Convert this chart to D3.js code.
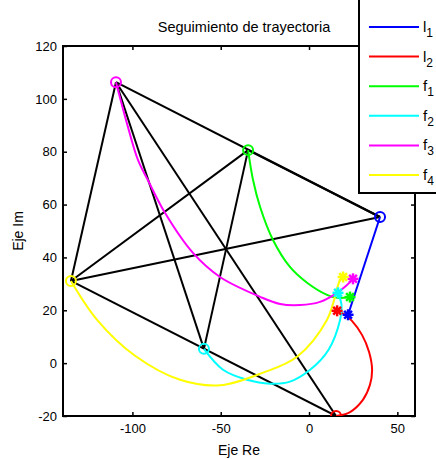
<!DOCTYPE html>
<html>
<head>
<meta charset="utf-8">
<script src="https://cdn.jsdelivr.net/npm/d3@7"></script>
<style>
  body { margin: 0; background: #fff; }
  svg { font-family: "Liberation Sans", Arial, sans-serif; }
</style>
</head>
<body>
<div id="chart"></div>
<script>
// series names, colours and legend labels
const seriesNames = ["l1", "l2", "f1", "f2", "f3", "f4"];
const seriesColors = ["#0000ff", "#ff0000", "#00ff00", "#00ffff", "#ff00ff", "#ffff00"];
const legendBase = ["l", "l", "f", "f", "f", "f"];
const legendSub = ["1", "2", "1", "2", "3", "4"];

// trajectories [Re, Im]
const l1 = [[40.2, 55.3], [22.1, 18.3]];
const l2 = [[15.3, -20.0], [23.2, -18.5], [30.6, -13.8], [34.5, -8.2], [35.7, -2.5],
            [34.0, 4.2], [30.0, 10.7], [24.3, 16.0], [19.8, 18.6], [15.9, 19.8]];
const f1 = [[-34.5, 80.6], [-31.7, 69.3], [-27.7, 59.1], [-20.4, 46.6], [-10.8, 36.4],
            [-1.1, 30.4], [10.2, 25.8], [15.9, 24.7], [23.2, 25.0]];
const f2 = [[-59.5, 5.4], [-48.7, -2.5], [-35.1, -6.3], [-22.1, -7.8], [-10.8, -7.0],
            [0.6, -2.5], [11.0, 5.0], [17.6, 16.4], [18.4, 22.0], [16.4, 26.6]];
const f3 = [[-109.3, 106.3], [-102.5, 89.3], [-96.8, 76.8], [-91.2, 69.2], [-81.5, 56.8],
            [-65.7, 41.7], [-50.4, 32.6], [-27.7, 25.1], [-16.4, 22.4], [-5.1, 22.0],
            [6.2, 23.2], [15.9, 26.6], [21.5, 29.6], [24.9, 31.9]];
const f4 = [[-134.8, 31.1], [-120.0, 16.4], [-98.5, 2.8], [-73.0, -6.3], [-50.4, -8.4],
            [-26.0, -3.6], [-6.8, 2.4], [10.2, 16.4], [17.6, 31.5], [19.3, 32.6]];
const trajectories = [l1, l2, f1, f2, f3, f4];

// black links between the starting positions
const links = [["f3", "l1"], ["f3", "f4"], ["f3", "f2"], ["f3", "l2"], ["f1", "l1"],
               ["f1", "f2"], ["f1", "f4"], ["f4", "l1"], ["f4", "l2"]];

// axis ticks and texts
const xTicks = [-100, -50, 0, 50];
const yTicks = [-20, 0, 20, 40, 60, 80, 100, 120];
const titleText = "Seguimiento de trayectoria";
const xLabel = "Eje Re";
const yLabel = "Eje Im";

// 1) SVG and plot box
const W = 436, H = 459;
const box = { left: 63, right: 415, top: 46, bottom: 416 };

const svg = d3.select("#chart").append("svg")
  .attr("width", W)
  .attr("height", H);

const x = d3.scaleLinear().domain([-139.3, 60]).range([box.left, box.right]);
const y = d3.scaleLinear().domain([-20, 120]).range([box.bottom, box.top]);

svg.append("clipPath").attr("id", "plotclip")
  .append("rect")
    .attr("x", box.left).attr("y", box.top)
    .attr("width", box.right - box.left)
    .attr("height", box.bottom - box.top);

// 2) axes: ticks inward on all four sides, plain hyphen minus like matlab
const tickLen = 4;
const fmt = d => String(d);
const bottomAx = svg.append("g")
  .attr("transform", `translate(0,${box.bottom})`)
  .call(d3.axisBottom(x).tickValues(xTicks).tickFormat(fmt).tickSizeInner(-tickLen).tickSizeOuter(0).tickPadding(8));
const topAx = svg.append("g")
  .attr("transform", `translate(0,${box.top})`)
  .call(d3.axisTop(x).tickValues(xTicks).tickSizeInner(-tickLen).tickSizeOuter(0).tickFormat(""));
const leftAx = svg.append("g")
  .attr("transform", `translate(${box.left},0)`)
  .call(d3.axisLeft(y).tickValues(yTicks).tickFormat(fmt).tickSizeInner(-tickLen).tickSizeOuter(0).tickPadding(6));
const rightAx = svg.append("g")
  .attr("transform", `translate(${box.right},0)`)
  .call(d3.axisRight(y).tickValues(yTicks).tickSizeInner(-tickLen).tickSizeOuter(0).tickFormat(""));

[bottomAx, topAx, leftAx, rightAx].forEach(g => {
  g.select(".domain").remove();
  g.selectAll("line").attr("stroke", "#000").attr("stroke-width", 1.5);
  g.selectAll("text").attr("fill", "#000").attr("font-size", "13px")
    .attr("font-family", "Liberation Sans, Arial, sans-serif");
});

svg.append("rect")
  .attr("x", box.left).attr("y", box.top)
  .attr("width", box.right - box.left)
  .attr("height", box.bottom - box.top)
  .attr("fill", "none")
  .attr("stroke", "#000")
  .attr("stroke-width", 2);

// 3) titles
svg.append("text")
  .attr("x", 244).attr("y", 32)
  .attr("text-anchor", "middle")
  .attr("font-size", "14.5px")
  .text(titleText);

svg.append("text")
  .attr("x", 239).attr("y", 455)
  .attr("text-anchor", "middle")
  .attr("font-size", "14px")
  .text(xLabel);

svg.append("text")
  .attr("transform", `translate(23,${(box.top + box.bottom) / 2}) rotate(-90)`)
  .attr("text-anchor", "middle")
  .attr("font-size", "14px")
  .text(yLabel);

// 4) plot layer
const plot = svg.append("g").attr("clip-path", "url(#plotclip)");
const startOf = name => trajectories[seriesNames.indexOf(name)][0];

plot.selectAll("line.link")
  .data(links)
  .enter().append("line")
    .attr("class", "link")
    .attr("x1", d => x(startOf(d[0])[0]))
    .attr("y1", d => y(startOf(d[0])[1]))
    .attr("x2", d => x(startOf(d[1])[0]))
    .attr("y2", d => y(startOf(d[1])[1]))
    .attr("stroke", "#000")
    .attr("stroke-width", 2);

const line = d3.line()
  .x(d => x(d[0]))
  .y(d => y(d[1]))
  .curve(d3.curveCatmullRom.alpha(0.5));

plot.selectAll("path.traj")
  .data(trajectories)
  .enter().append("path")
    .attr("class", "traj")
    .attr("fill", "none")
    .attr("stroke", (d, i) => seriesColors[i])
    .attr("stroke-width", 2)
    .attr("d", line);

// start markers (circles)
plot.selectAll("circle.start")
  .data(trajectories)
  .enter().append("circle")
    .attr("class", "start")
    .attr("cx", d => x(d[0][0]))
    .attr("cy", d => y(d[0][1]))
    .attr("r", 5)
    .attr("fill", "none")
    .attr("stroke", (d, i) => seriesColors[i])
    .attr("stroke-width", 2);

// end markers (asterisks)
const star = plot.selectAll("g.end")
  .data(trajectories)
  .enter().append("g")
    .attr("class", "end")
    .attr("transform", d => `translate(${x(d[d.length - 1][0])},${y(d[d.length - 1][1])})`)
    .attr("stroke", (d, i) => seriesColors[i])
    .attr("stroke-width", 2.5);
[0, 45, 90, 135].forEach(a => {
  star.append("line")
    .attr("x1", -5.5).attr("x2", 5.5)
    .attr("y1", 0).attr("y2", 0)
    .attr("transform", `rotate(${a})`);
});

// 5) legend
const legend = svg.append("g");
legend.append("rect")
  .attr("x", 359).attr("y", -3)
  .attr("width", 90).attr("height", 196)
  .attr("fill", "#fff")
  .attr("stroke", "#000")
  .attr("stroke-width", 2);

seriesNames.forEach((name, i) => {
  const ly = 27 + i * 29.6;
  legend.append("line")
    .attr("x1", 369).attr("x2", 419)
    .attr("y1", ly).attr("y2", ly)
    .attr("stroke", seriesColors[i])
    .attr("stroke-width", 2);
  const t = legend.append("text")
    .attr("x", 423).attr("y", ly + 5)
    .attr("font-size", "15px");
  t.append("tspan").text(legendBase[i]);
  t.append("tspan").attr("dy", 5).attr("font-size", "12px").text(legendSub[i]);
});
</script>
</body>
</html>
